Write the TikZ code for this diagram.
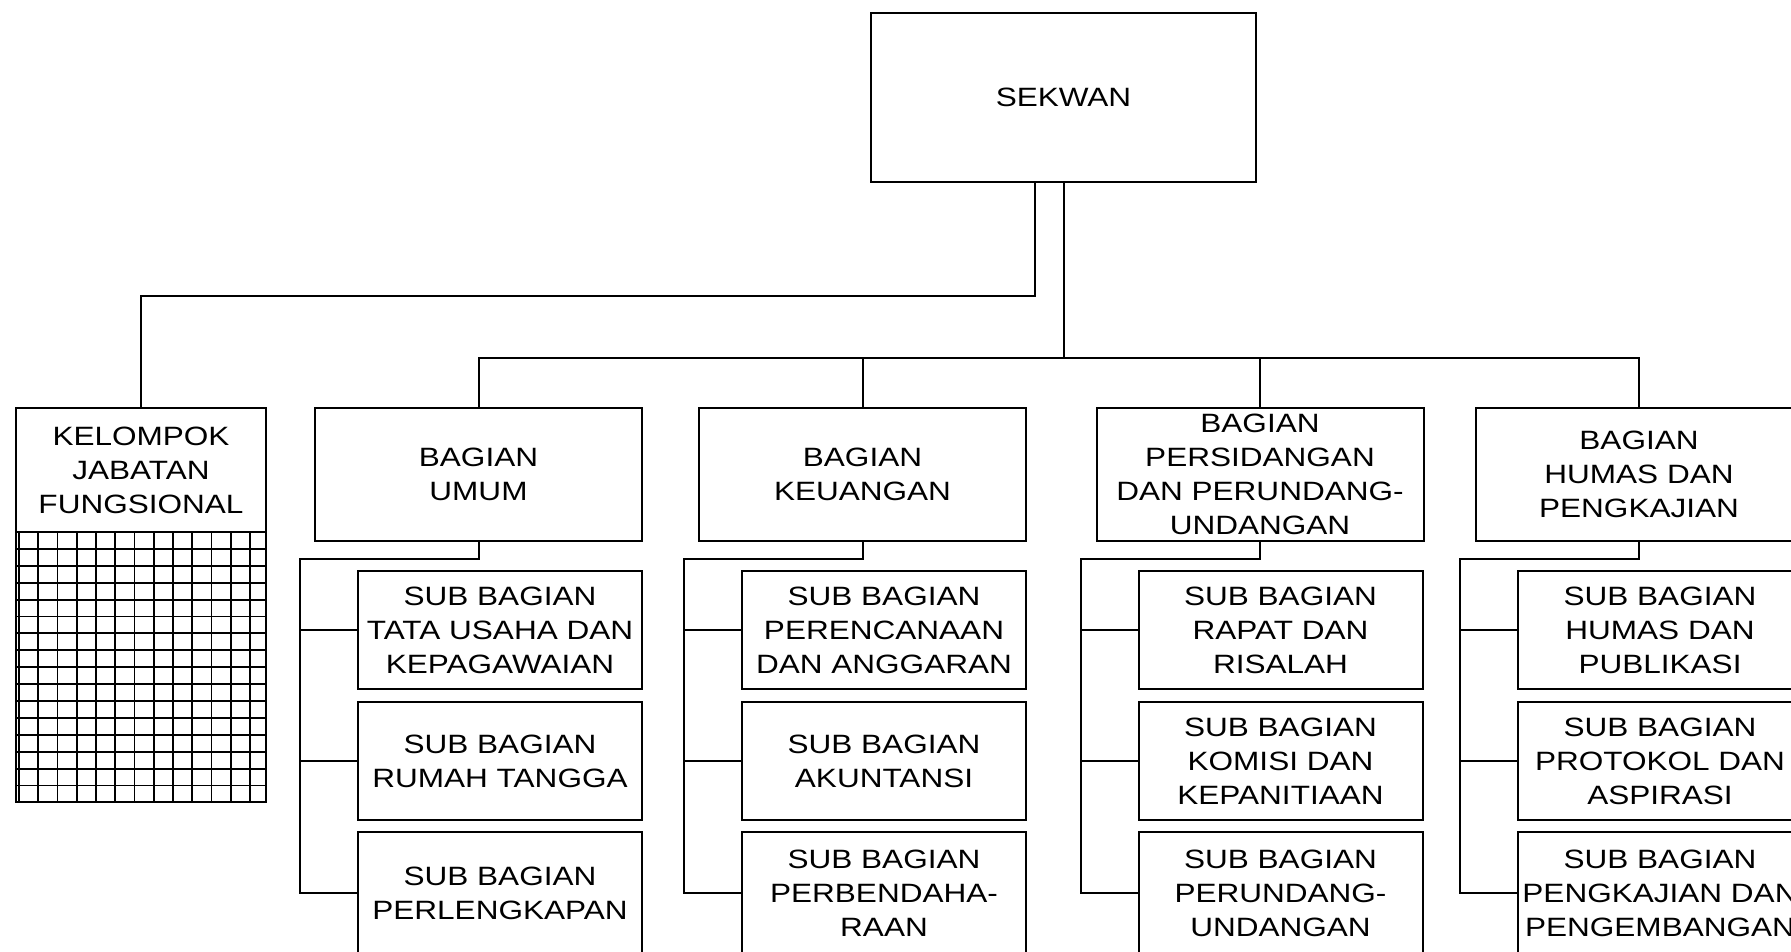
\documentclass[tikz,border=0pt]{standalone}
\usepackage{fontspec}
\setmainfont{Liberation Sans}[FakeStretch=1.19]
\begin{document}
\begin{tikzpicture}[x=1pt,y=-1pt,
  box/.style={draw, line width=2pt, rectangle, inner sep=0pt, align=center,
    font=\fontsize{26.5}{34}\selectfont},
  bagbox/.style={box, minimum width=327pt, minimum height=133pt},
  subbox/.style={box, minimum width=284pt, minimum height=118pt},
  lastbox/.style={box, minimum width=284pt, minimum height=122pt},
  txt/.style={inner sep=0pt, align=center, font=\fontsize{26.5}{34}\selectfont},
  conn/.style={line width=2pt},
  gridln/.style={line width=1.9pt}]
\useasboundingbox (0,0) rectangle (1791,951);
\fill[white] (0,0) rectangle (1791,951);

% top
\node[box, minimum width=385pt, minimum height=169pt] (sek) at (1063.5,97.5) {SEKWAN};

% kelompok jabatan fungsional
\node[draw, line width=2pt, minimum width=250pt, minimum height=394pt, inner sep=0pt] (kjf) at (141,605) {};
\node[txt] (kjft) at (141,470) {KELOMPOK\\JABATAN\\FUNGSIONAL};
\draw[conn] (kjf.west |- 0,532) -- (kjf.east |- 0,532);
\foreach \i in {0,...,12} \draw[gridln] (19+19.25*\i,532) -- (19+19.25*\i,802);
\foreach \j in {1,...,15} \draw[gridln] (16,532+16.9*\j) -- (266,532+16.9*\j);

% bagian
\node[bagbox] (umum) at (478.5,474.5) {BAGIAN\\UMUM};
\node[bagbox] (keu) at (862.5,474.5) {BAGIAN\\KEUANGAN};
\node[bagbox] (per) at (1260,474.5) {BAGIAN\\PERSIDANGAN\\DAN PERUNDANG-\\UNDANGAN};
\node[bagbox] (hum) at (1639,474.5) {BAGIAN\\HUMAS DAN\\PENGKAJIAN};

% sub bagian umum
\node[subbox] (u1) at (500,630) {SUB BAGIAN\\TATA USAHA DAN\\KEPAGAWAIAN};
\node[subbox] (u2) at (500,761) {SUB BAGIAN\\RUMAH TANGGA};
\node[lastbox] (u3) at (500,893) {SUB BAGIAN\\PERLENGKAPAN};
% sub bagian keuangan
\node[subbox] (k1) at (884,630) {SUB BAGIAN\\PERENCANAAN\\DAN ANGGARAN};
\node[subbox] (k2) at (884,761) {SUB BAGIAN\\AKUNTANSI};
\node[lastbox] (k3) at (884,893) {SUB BAGIAN\\PERBENDAHA-\\RAAN};
% sub bagian persidangan
\node[subbox] (p1) at (1280.5,630) {SUB BAGIAN\\RAPAT DAN\\RISALAH};
\node[subbox] (p2) at (1280.5,761) {SUB BAGIAN\\KOMISI DAN\\KEPANITIAAN};
\node[lastbox] (p3) at (1280.5,893) {SUB BAGIAN\\PERUNDANG-\\UNDANGAN};
% sub bagian humas
\node[subbox] (h1) at (1660,630) {SUB BAGIAN\\HUMAS DAN\\PUBLIKASI};
\node[subbox] (h2) at (1660,761) {SUB BAGIAN\\PROTOKOL DAN\\ASPIRASI};
\node[lastbox] (h3) at (1660,893) {SUB BAGIAN\\PENGKAJIAN DAN\\PENGEMBANGAN};

% connectors from sekwan
\draw[conn] ([xshift=-28.5pt]sek.south) -- ++(0,113) -| (kjf.north);
\draw[conn] (sek.south) -- ++(0,175) coordinate (bus);
\draw[conn] (umum.north) |- (bus) -| (hum.north);
\draw[conn] (keu.north) -- (keu.north |- bus);
\draw[conn] (per.north) -- (per.north |- bus);

% brackets
\foreach \b/\a/\c/\d in {umum/u1/u2/u3, keu/k1/k2/k3, per/p1/p2/p3, hum/h1/h2/h3}{
  \draw[conn] (\b.south) -- ++(0,17) -| ([xshift=-57pt]\d.west) -- (\d.west);
  \draw[conn] (\a.west) -- ++(-57,0);
  \draw[conn] (\c.west) -- ++(-57,0);
}
\end{tikzpicture}
\end{document}
